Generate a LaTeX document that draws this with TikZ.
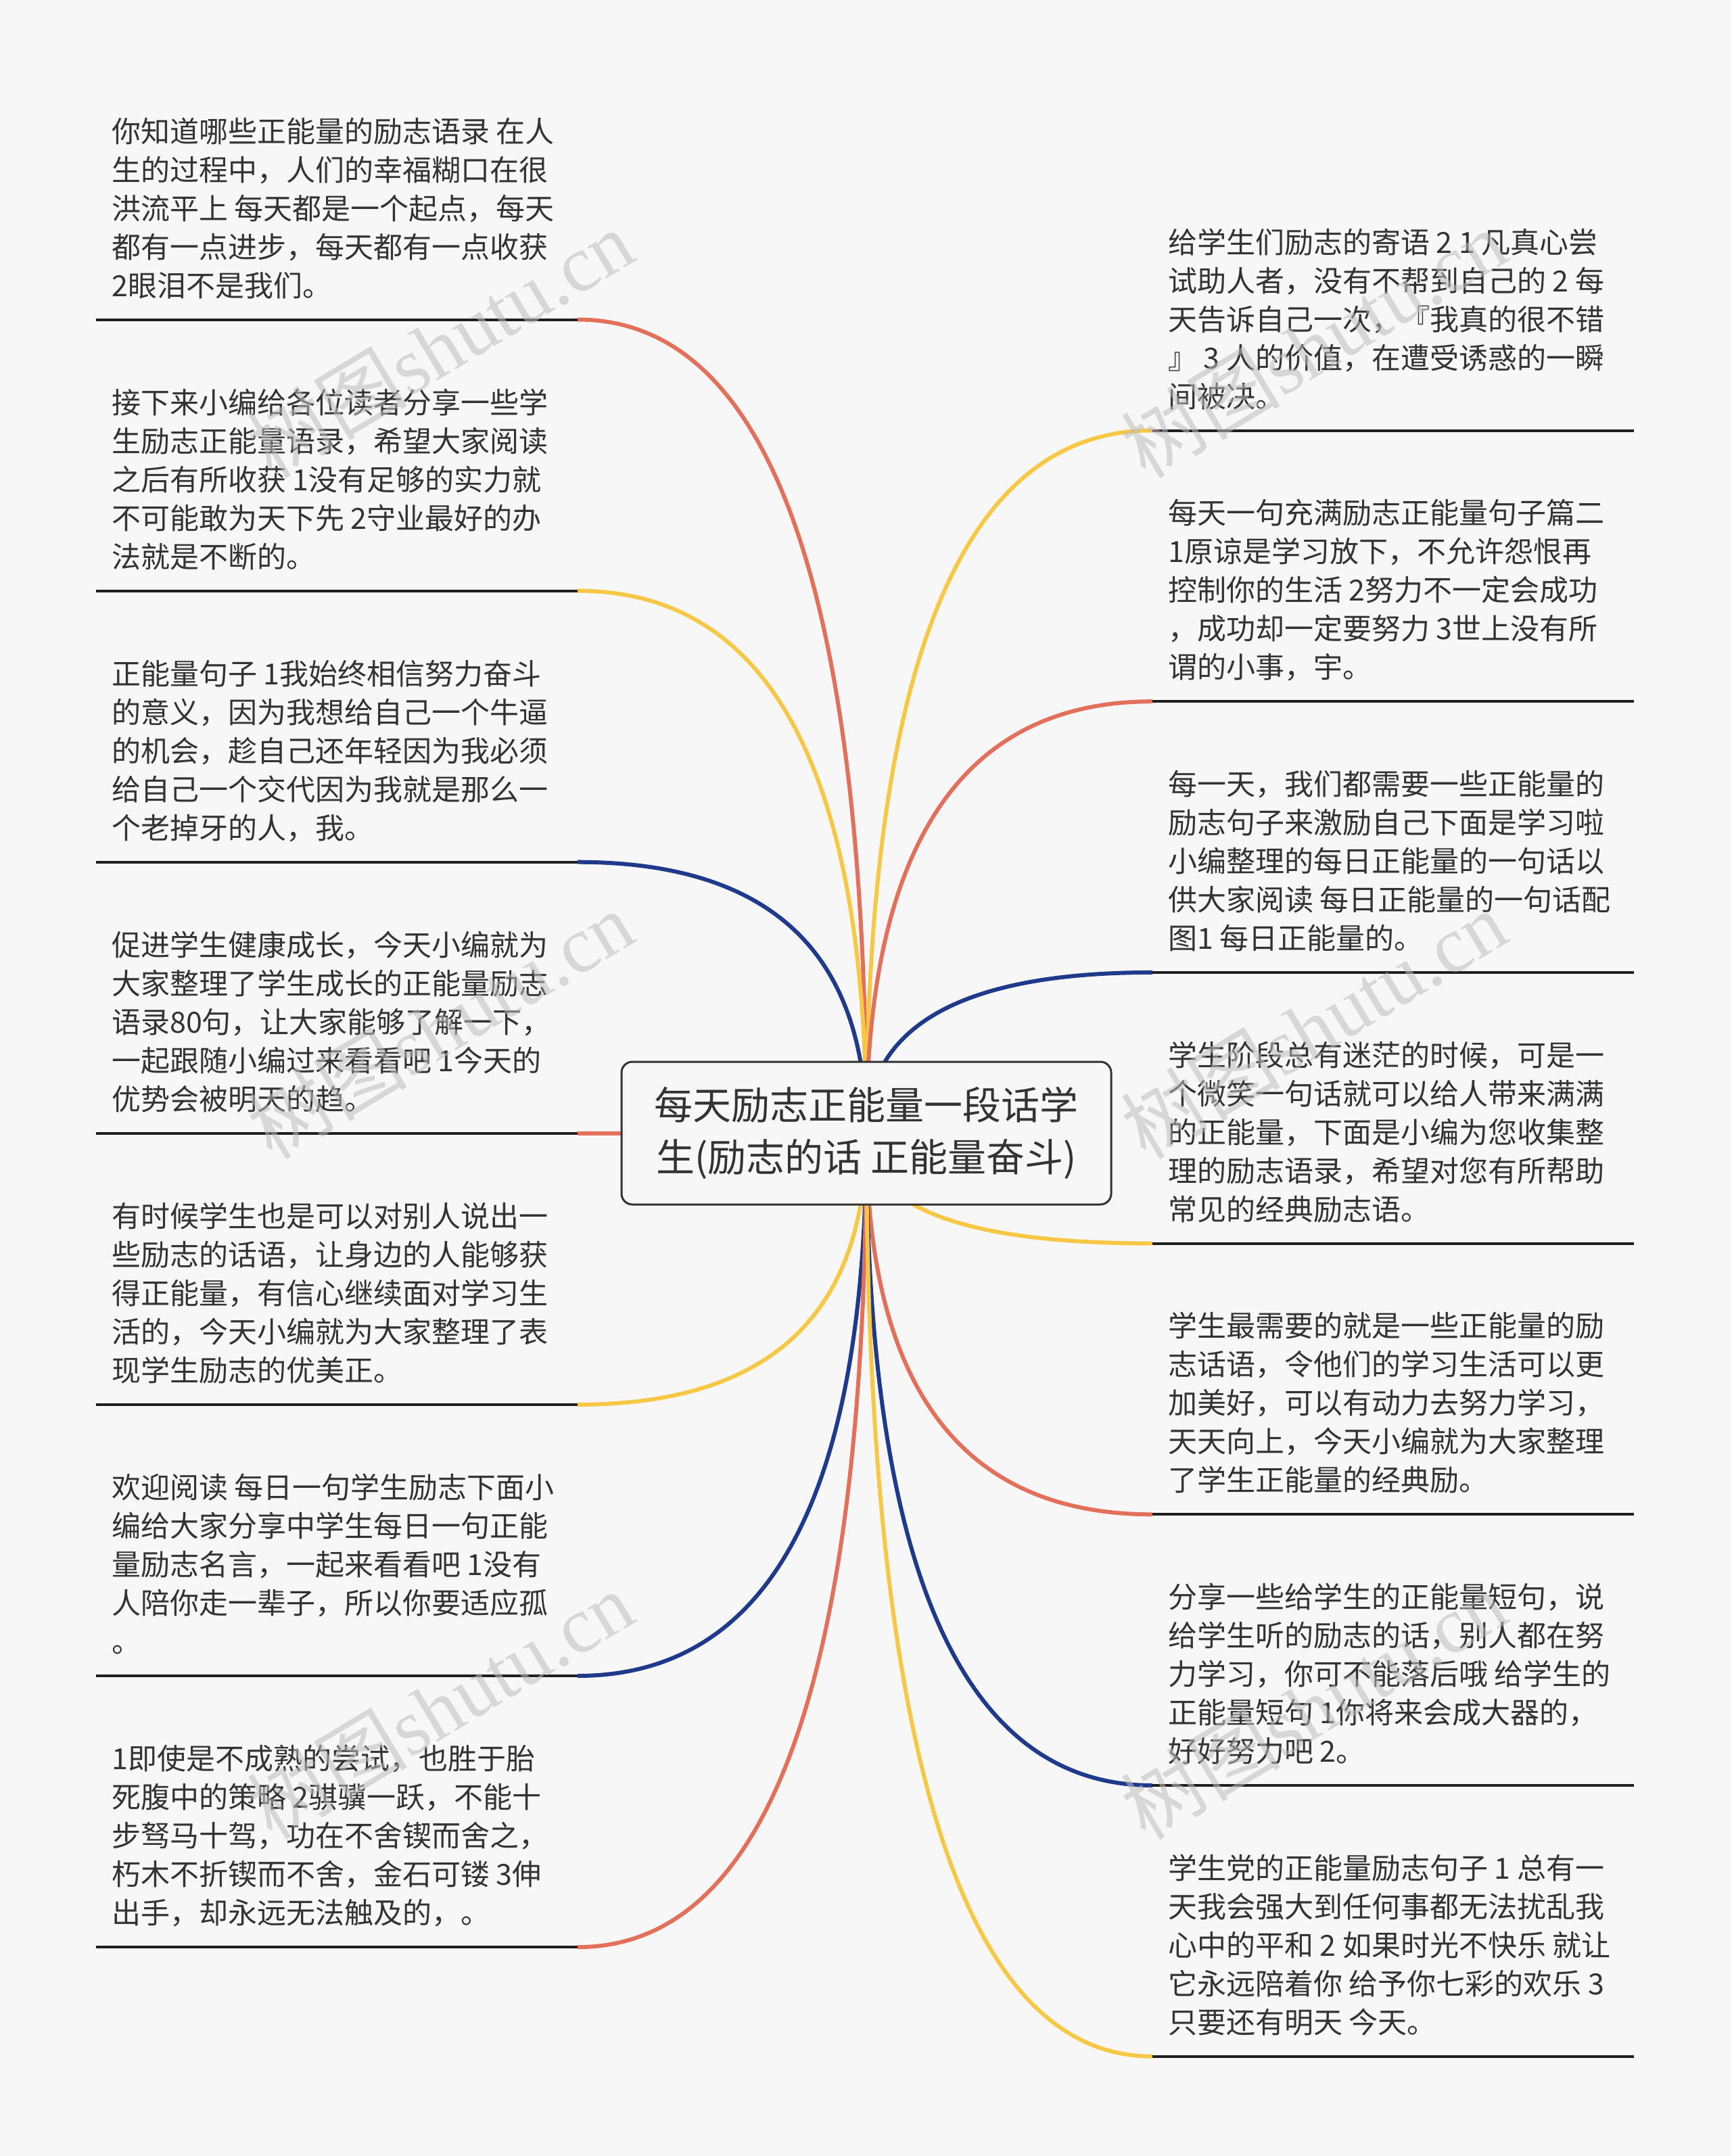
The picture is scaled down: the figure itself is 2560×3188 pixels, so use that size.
\documentclass[tikz,border=0pt]{standalone}
\usepackage{fontspec}
\setmainfont{Noto Sans CJK SC}
\newfontfamily\wmlat{Liberation Serif}
\usetikzlibrary{calc}
\definecolor{bgc}{HTML}{F7F7F7}
\definecolor{txt}{HTML}{333333}
\definecolor{cred}{HTML}{E2705A}
\definecolor{cyel}{HTML}{F7C845}
\definecolor{cblu}{HTML}{1F3A8A}
\definecolor{wmc}{HTML}{BDBDBD}
\pgfdeclarelayer{bg}\pgfdeclarelayer{links}\pgfsetlayers{bg,links,main}
\newcommand\brL[4]{%
 \node[leaf] (#1) at (165,#2-306.7) {\rule{0pt}{44pt}#4};
 \coordinate (#1o) at (142,#2);
 \coordinate (#1i) at (854,#2);
 \draw[uline] (#1o) -- (#1i);
 \coordinate (#1k) at (cc|-#1i);
 \begin{pgfonlayer}{links}
 \draw[link,draw=#3] (cc) .. controls ($(cc)!0.6667!(#1k)$) and ($(#1i)!0.6667!(#1k)$) .. (#1i);
 \end{pgfonlayer}}
\newcommand\brR[4]{%
 \node[leaf] (#1) at (1727,#2-306.7) {\rule{0pt}{44pt}#4};
 \coordinate (#1o) at (2416,#2);
 \coordinate (#1i) at (1704,#2);
 \draw[uline] (#1i) -- (#1o);
 \coordinate (#1k) at (cc|-#1i);
 \begin{pgfonlayer}{links}
 \draw[link,draw=#3] (cc) .. controls ($(cc)!0.6667!(#1k)$) and ($(#1i)!0.6667!(#1k)$) .. (#1i);
 \end{pgfonlayer}}
\begin{document}
\begin{tikzpicture}[x=1pt,y=-1pt,
  leaf/.style={anchor=north west,inner sep=0pt,align=left,text=txt,font=\fontsize{43pt}{57pt}\selectfont},
  uline/.style={line width=4pt,draw=black!88},
  link/.style={line width=6pt},
  wm/.style={inner sep=0pt,text=wmc,text opacity=0.55,rotate=31,font=\fontsize{118pt}{118pt}\selectfont}]
\useasboundingbox (0,0) rectangle (2560,3188);
\begin{pgfonlayer}{bg}
\fill[bgc] (0,0) rectangle (2560,3188);
\end{pgfonlayer}
\node[draw=txt,line width=3pt,fill=bgc,rounded corners=16pt,minimum width=724pt,minimum height=211pt,inner sep=0pt,align=center,text=txt,font=\fontsize{57pt}{77pt}\selectfont] (c) at (1281,1675.5) {每天励志正能量一段话学\\生(励志的话 正能量奋斗)};
\coordinate (cc) at (c.center);
\brL{L1}{472.5}{cred}{你知道哪些正能量的励志语录 在人\\生的过程中，人们的幸福糊口在很\\洪流平上 每天都是一个起点，每天\\都有一点进步，每天都有一点收获\\2眼泪不是我们。}
\brL{L2}{873.6}{cyel}{接下来小编给各位读者分享一些学\\生励志正能量语录，希望大家阅读\\之后有所收获 1没有足够的实力就\\不可能敢为天下先 2守业最好的办\\法就是不断的。}
\brL{L3}{1274.7}{cblu}{正能量句子 1我始终相信努力奋斗\\的意义，因为我想给自己一个牛逼\\的机会，趁自己还年轻因为我必须\\给自己一个交代因为我就是那么一\\个老掉牙的人，我。}
\brL{L4}{1675.8}{cred}{促进学生健康成长，今天小编就为\\大家整理了学生成长的正能量励志\\语录80句，让大家能够了解一下，\\一起跟随小编过来看看吧 1今天的\\优势会被明天的趋。}
\brL{L5}{2076.9}{cyel}{有时候学生也是可以对别人说出一\\些励志的话语，让身边的人能够获\\得正能量，有信心继续面对学习生\\活的，今天小编就为大家整理了表\\现学生励志的优美正。}
\brL{L6}{2478}{cblu}{欢迎阅读 每日一句学生励志下面小\\编给大家分享中学生每日一句正能\\量励志名言，一起来看看吧 1没有\\人陪你走一辈子，所以你要适应孤\\。}
\brL{L7}{2879.1}{cred}{1即使是不成熟的尝试，也胜于胎\\死腹中的策略 2骐骥一跃，不能十\\步驽马十驾，功在不舍锲而舍之，\\朽木不折锲而不舍，金石可镂 3伸\\出手，却永远无法触及的，。}
\brR{R1}{636.5}{cyel}{给学生们励志的寄语 2 1 凡真心尝\\试助人者，没有不帮到自己的 2 每\\天告诉自己一次，『我真的很不错\\』 3 人的价值，在遭受诱惑的一瞬\\间被决。}
\brR{R2}{1037.2}{cred}{每天一句充满励志正能量句子篇二\\1原谅是学习放下，不允许怨恨再\\控制你的生活 2努力不一定会成功\\，成功却一定要努力 3世上没有所\\谓的小事，宇。}
\brR{R3}{1437.9}{cblu}{每一天，我们都需要一些正能量的\\励志句子来激励自己下面是学习啦\\小编整理的每日正能量的一句话以\\供大家阅读 每日正能量的一句话配\\图1 每日正能量的。}
\brR{R4}{1838.6}{cyel}{学生阶段总有迷茫的时候，可是一\\个微笑一句话就可以给人带来满满\\的正能量，下面是小编为您收集整\\理的励志语录，希望对您有所帮助\\常见的经典励志语。}
\brR{R5}{2239.3}{cred}{学生最需要的就是一些正能量的励\\志话语，令他们的学习生活可以更\\加美好，可以有动力去努力学习，\\天天向上，今天小编就为大家整理\\了学生正能量的经典励。}
\brR{R6}{2640}{cblu}{分享一些给学生的正能量短句，说\\给学生听的励志的话，别人都在努\\力学习，你可不能落后哦 给学生的\\正能量短句 1你将来会成大器的，\\好好努力吧 2。}
\brR{R7}{3040.7}{cyel}{学生党的正能量励志句子 1 总有一\\天我会强大到任何事都无法扰乱我\\心中的平和 2 如果时光不快乐 就让\\它永远陪着你 给予你七彩的欢乐 3\\只要还有明天 今天。}
\node[wm] (w1) at (651,508) {树图{\wmlat shutu.cn}};
\node[wm] (w2) at (651,1515) {树图{\wmlat shutu.cn}};
\node[wm] (w3) at (651,2521) {树图{\wmlat shutu.cn}};
\node[wm] (w4) at (1942,508) {树图{\wmlat shutu.cn}};
\node[wm] (w5) at (1942,1515) {树图{\wmlat shutu.cn}};
\node[wm] (w6) at (1942,2521) {树图{\wmlat shutu.cn}};
\end{tikzpicture}
\end{document}
